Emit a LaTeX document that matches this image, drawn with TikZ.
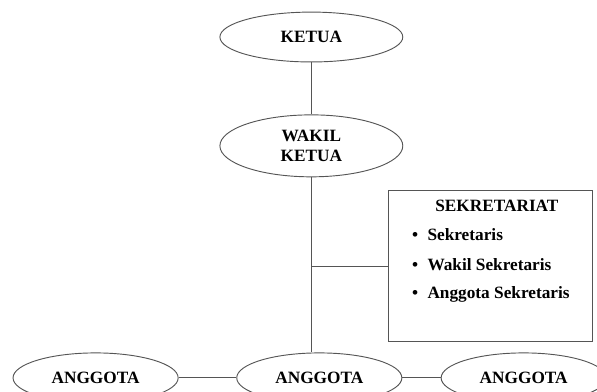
\documentclass[tikz,border=0pt]{standalone}
\usepackage{fontspec}
\setmainfont{Liberation Serif}
\definecolor{lineGray}{RGB}{85, 85, 85}
\usepackage{tikz}
\usetikzlibrary{shapes.geometric, positioning, calc}

\begin{document}
\begin{tikzpicture}[
  jabatan/.style={draw=lineGray, ellipse, line width=0.7pt, minimum width=4.84cm, minimum height=1.32cm, inner sep=0pt, font=\fontsize{13}{14.5}\selectfont\bfseries, align=center},
  anggota/.style={jabatan, minimum width=4.37cm},
  garis/.style={lineGray, line width=0.7pt},
  butir/.style={anchor=west, font=\fontsize{13}{15}\selectfont\bfseries}
]
\useasboundingbox (0,0) rectangle (15.80,-10.37);
\node[jabatan] (ketua) at (8.24,-0.98) {KETUA};
\node[jabatan, minimum height=1.64cm] (wakil) at (8.24,-3.86) {WAKIL\\KETUA};
\node[draw=lineGray, line width=0.7pt, rectangle, minimum width=5.40cm, minimum height=4.02cm] (sekr) at (12.99,-7.04) {};
\node[font=\fontsize{13}{15}\selectfont\bfseries] (judul) at (13.15,-5.45) {SEKRETARIAT};
\node[butir] (item1) at (10.78,-6.22) {\textbullet\hspace{0.25cm}Sekretaris};
\node[butir] (item2) at (10.78,-7.01) {\textbullet\hspace{0.25cm}Wakil Sekretaris};
\node[butir] (item3) at (10.78,-7.78) {\textbullet\hspace{0.25cm}Anggota Sekretaris};
\node[anggota] (angg1) at (2.53,-10.00) {ANGGOTA};
\node[anggota] (angg2) at (8.45,-10.00) {ANGGOTA};
\node[anggota] (angg3) at (13.86,-10.00) {ANGGOTA};
\draw[garis] (ketua) -- (wakil);
\draw[garis] (wakil.south) -- (wakil.south |- angg2.north);
\draw[garis] (wakil.south |- sekr.west) -- (sekr.west);
\draw[garis] (angg1) -- (angg2);
\draw[garis] (angg2) -- (angg3);
\end{tikzpicture}
\end{document}
